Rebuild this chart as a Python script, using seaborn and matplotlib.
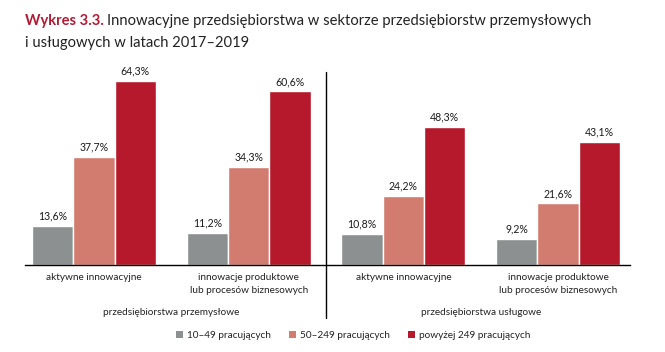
import matplotlib
matplotlib.use("Agg")
import matplotlib.pyplot as plt
import matplotlib.transforms as mtransforms
from matplotlib.patches import Patch
import seaborn as sns
import pandas as pd

categories = ["aktywne innowacyjne", "innowacje produktowe\nlub procesów biznesowych",
              "aktywne innowacyjne ", "innowacje produktowe\nlub procesów biznesowych "]
sizes = ["10–49 pracujących", "50–249 pracujących", "powyżej 249 pracujących"]
v_small = [13.6, 11.2, 10.8, 9.2]
v_medium = [37.7, 34.3, 24.2, 21.6]
v_large = [64.3, 60.6, 48.3, 43.1]
sectors = ["przedsiębiorstwa przemysłowe", "przedsiębiorstwa usługowe"]
colors = ["#8d9090", "#d27c6f", "#b5192b"]

rows = []
for s, vals in zip(sizes, [v_small, v_medium, v_large]):
    for c, v in zip(categories, vals):
        rows.append({"cat": c, "size": s, "val": v})
df = pd.DataFrame(rows)

sns.set_theme(style="white")
plt.rcParams["font.family"] = ["Lato", "DejaVu Sans"]

fig = plt.figure(figsize=(6.65, 3.52), dpi=100)
ax = fig.add_axes([25/665, 1-265/352, 605/665, 193/352])
sns.barplot(data=df, x="cat", y="val", hue="size", palette=colors, order=categories,
            hue_order=sizes, width=0.8, saturation=1, ax=ax, legend=False)
ax.set_xlim(-0.446, 3.465)
ax.set_ylim(0, 67.4)
ax.set_xlabel("")
ax.set_ylabel("")
ax.set_yticks([])
for side in ["top", "right", "left"]:
    ax.spines[side].set_visible(False)
ax.spines["bottom"].set_color("black")
ax.spines["bottom"].set_linewidth(1.0)
ax.tick_params(axis="x", length=0, pad=6, labelsize=7.2, colors="#222222")
ax.set_xticks(range(len(categories)))
ax.set_xticklabels([c.strip() for c in categories], linespacing=1.5)

for cont in ax.containers:
    labels = [f"{b.get_height():.1f}%".replace(".", ",") for b in cont]
    ax.bar_label(cont, labels=labels, padding=3, fontsize=7.6, color="#1a1a1a")

trans = mtransforms.blended_transform_factory(ax.transData, ax.transAxes)
ax.plot([1.5, 1.5], [-0.275, 1.0], transform=trans, color="black", lw=1.0, clip_on=False)
ax.text(0.5, -0.248, sectors[0], transform=trans, ha="center", va="center",
        fontsize=7.2, color="#222222")
ax.text(2.5, -0.248, sectors[1], transform=trans, ha="center", va="center",
        fontsize=7.2, color="#222222")

handles = [Patch(facecolor=c, edgecolor="none") for c in colors]
fig.legend(handles, sizes, loc="center", bbox_to_anchor=(353/665, 1-335/352), ncol=3,
           frameon=False, fontsize=7.2, handlelength=0.7, handleheight=0.7,
           handletextpad=0.4, columnspacing=1.8, labelcolor="#222222")

fig.text(25/665, 1-21/352, "Wykres 3.3.", fontsize=10.6, fontweight="bold", color="#b01c35",
         ha="left", va="center")
fig.canvas.draw()
r = fig.canvas.get_renderer()
t0 = fig.texts[0]
bb = t0.get_window_extent(r)
fig.text((bb.x1 + 3)/665, 1-21/352, "Innowacyjne przedsiębiorstwa w sektorze przedsiębiorstw przemysłowych",
         fontsize=10.6, color="#222222", ha="left", va="center")
fig.text(25/665, 1-43/352, "i usługowych w latach 2017–2019", fontsize=10.6, color="#222222",
         ha="left", va="center")

fig.savefig("out.png", dpi=100)
